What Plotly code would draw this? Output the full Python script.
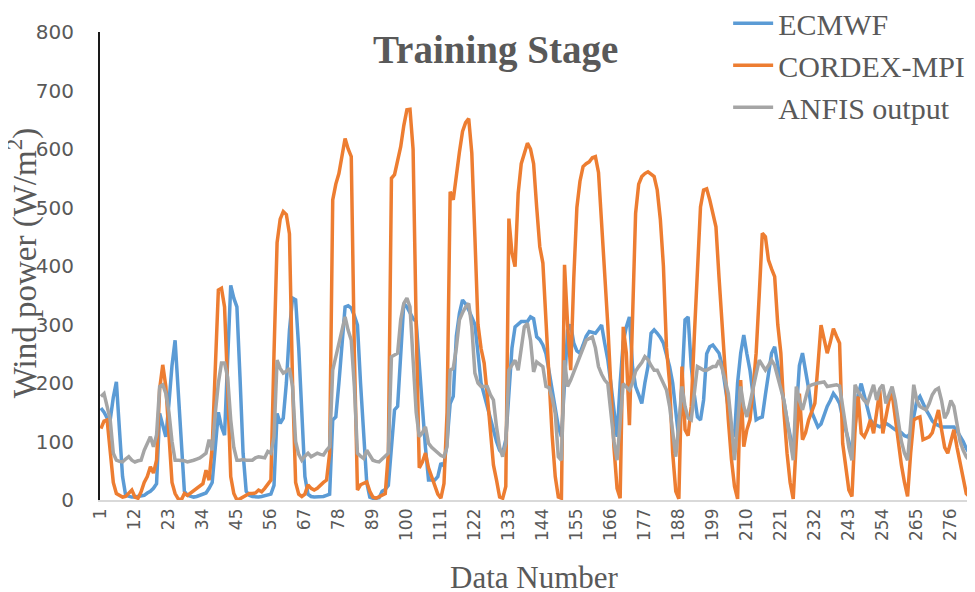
import plotly.graph_objects as go

ecmwf = [
    157, 150, 140, 137, 175, 202, 120, 40, 8, 6,
    5, 5, 6, 8, 8, 12, 15, 20, 28, 148,
    125, 108, 165, 230, 273, 190, 90, 15, 8, 6,
    5, 6, 8, 10, 12, 20, 30, 90, 150, 125,
    111, 240, 367, 345, 330, 210, 80, 15, 8, 6,
    5, 5, 6, 7, 8, 10, 25, 148, 131, 140,
    200, 290, 345, 342, 260, 150, 40, 10, 6, 5,
    5, 5, 6, 8, 10, 137, 142, 200, 270, 330,
    332, 328, 315, 299, 200, 120, 30, 5, 3, 3,
    4, 15, 18, 25, 100, 154, 160, 250, 336, 330,
    320, 310, 305, 240, 160, 90, 34, 34, 34, 40,
    63, 58, 100, 165, 177, 280, 319, 342, 335, 325,
    313, 300, 251, 200, 180, 160, 137, 120, 100, 85,
    80, 103, 194, 260, 296, 300, 305, 305, 305, 313,
    310, 279, 274, 265, 250, 220, 190, 160, 125, 108,
    200, 290, 300, 268, 255, 251, 265, 280, 288, 286,
    285, 292, 299, 268, 240, 199, 150, 108, 200, 270,
    296, 313, 228, 194, 180, 165, 200, 228, 285, 291,
    285, 278, 268, 250, 228, 200, 154, 103, 200, 308,
    313, 228, 180, 142, 137, 171, 250, 262, 265, 259,
    251, 230, 194, 150, 120, 108, 200, 251, 282, 250,
    222, 180, 137, 140, 142, 180, 220, 251, 262, 230,
    194, 165, 137, 110, 80, 150, 230, 251, 222, 190,
    150, 137, 125, 130, 145, 160, 170, 182, 175, 165,
    140, 120, 100, 74, 130, 180, 199, 180, 160, 137,
    130, 127, 125, 128, 131, 128, 124, 120, 118, 115,
    110, 108, 115, 140, 170, 177, 165, 154, 145, 135,
    130, 128, 125, 125, 125, 125, 125, 118, 110, 100, 88, 80,
]

cordex = [
    122, 135, 137, 90, 30, 11, 8, 5, 6, 12,
    17, 5, 3, 14, 30, 40, 57, 46, 68, 190,
    231, 194, 100, 30, 11, 2, 0, 11, 8, 12,
    17, 20, 25, 28, 51, 34, 90, 222, 359, 362,
    330, 194, 40, 11, 0, 2, 5, 8, 11, 11,
    12, 17, 14, 20, 28, 34, 250, 440, 480, 493,
    488, 455, 200, 30, 10, 6, 10, 26, 20, 17,
    20, 26, 30, 34, 80, 513, 540, 558, 590, 618,
    600, 587, 250, 17, 26, 28, 31, 15, 5, 3,
    6, 8, 11, 80, 550, 556, 580, 604, 640, 667,
    668, 600, 300, 55, 65, 80, 55, 40, 23, 10,
    3, 28, 150, 527, 513, 560, 595, 630, 645, 652,
    593, 450, 300, 259, 234, 180, 120, 60, 34, 5,
    3, 23, 481, 422, 399, 524, 575, 593, 610, 600,
    575, 500, 433, 405, 300, 200, 110, 40, 5, 3,
    402, 300, 222, 380, 500, 545, 570, 575, 578, 585,
    587, 560, 480, 400, 300, 194, 90, 20, 3, 296,
    251, 128, 336, 490, 540, 553, 558, 561, 557, 553,
    530, 480, 400, 260, 200, 80, 15, 2, 228, 120,
    110, 160, 280, 380, 501, 530, 532, 513, 490, 467,
    380, 308, 220, 137, 70, 23, 2, 205, 91, 120,
    137, 190, 251, 350, 456, 450, 410, 395, 382, 300,
    251, 150, 80, 30, 2, 100, 182, 103, 115, 137,
    150, 165, 230, 299, 275, 251, 270, 293, 280, 268,
    97, 60, 17, 6, 120, 177, 114, 108, 120, 137,
    114, 150, 188, 114, 140, 170, 182, 140, 100, 60,
    30, 6, 80, 137, 140, 142, 103, 105, 108, 115,
    137, 154, 120, 90, 80, 100, 120, 90, 63, 35, 11, 6,
]

anfis = [
    177, 182, 160, 137, 80, 68, 66, 65, 70, 74,
    68, 65, 67, 68, 85, 97, 108, 91, 111, 194,
    197, 182, 150, 100, 68, 68, 68, 67, 65, 66,
    68, 70, 72, 76, 80, 103, 85, 148, 200, 234,
    234, 210, 137, 90, 68, 68, 69, 68, 68, 68,
    72, 74, 73, 72, 83, 80, 108, 239, 225, 217,
    220, 225, 194, 100, 78, 68, 75, 80, 74, 77,
    80, 78, 77, 85, 91, 222, 245, 270, 295, 313,
    290, 273, 194, 80, 75, 71, 85, 75, 68, 66,
    65, 70, 75, 80, 245, 248, 251, 308, 336, 345,
    330, 240, 150, 108, 115, 125, 97, 90, 85, 80,
    76, 74, 91, 222, 225, 260, 308, 320, 330, 336,
    296, 217, 200, 194, 194, 194, 180, 171, 125, 90,
    74, 97, 222, 230, 239, 222, 260, 296, 302, 273,
    219, 236, 232, 228, 194, 192, 175, 148, 74, 68,
    239, 194, 205, 219, 235, 245, 260, 273, 276, 279,
    260, 228, 215, 205, 199, 150, 100, 68, 130, 199,
    193, 188, 200, 220, 228, 235, 245, 240, 230, 222,
    222, 210, 200, 188, 160, 120, 74, 130, 194, 160,
    140, 137, 180, 228, 225, 222, 222, 225, 228, 228,
    239, 225, 205, 182, 130, 68, 130, 194, 160, 142,
    165, 194, 215, 239, 230, 222, 230, 239, 230, 210,
    194, 170, 137, 100, 68, 194, 170, 154, 175, 194,
    197, 199, 200, 201, 202, 194, 195, 197, 197, 195,
    160, 120, 90, 68, 197, 185, 177, 170, 165, 180,
    197, 171, 190, 197, 165, 180, 194, 170, 130, 100,
    80, 68, 130, 197, 170, 160, 157, 154, 165, 180,
    188, 191, 170, 140, 150, 170, 160, 125, 100, 85, 74, 68,
]

data_number = list(range(1, len(ecmwf) + 1))
tick_values = list(range(1, len(ecmwf) + 1, 11))
tick_labels = [str(v) for v in tick_values]
y_ticks = [0, 100, 200, 300, 400, 500, 600, 700, 800]

series = [
    ("ECMWF", ecmwf, "#5B9BD5"),
    ("CORDEX-MPI", cordex, "#ED7D31"),
    ("ANFIS output", anfis, "#A5A5A5"),
]

fig = go.Figure()
for name, vals, color in series:
    fig.add_trace(go.Scatter(x=data_number, y=vals, mode="lines", name=name,
                             line=dict(color=color, width=3.5)))

text_color = "#595959"
serif = "Liberation Serif, Times New Roman, serif"

# the page adds an 8px body margin, so the figure is 8px smaller and margins compensate
fig.update_layout(
    width=967, height=584,
    margin=dict(l=92, r=5, t=24, b=92, autoexpand=False),
    paper_bgcolor="white", plot_bgcolor="white",
    showlegend=True,
    legend=dict(x=0.722, y=1.074, xanchor="left", yanchor="top",
                font=dict(family=serif, size=30, color=text_color),
                bgcolor="rgba(0,0,0,0)", tracegroupgap=0, itemwidth=40),
    xaxis=dict(range=[0.7, 282.2], tickmode="array", tickvals=tick_values, ticktext=tick_labels,
               tickangle=-90, showgrid=False, zeroline=False, showline=True, automargin=False,
               linecolor="#D9D9D9", linewidth=1.5, ticks="",
               tickfont=dict(family="DejaVu Sans", size=17, color=text_color)),
    yaxis=dict(range=[0, 800], tickvals=y_ticks, showgrid=False, zeroline=False,
               showline=True, linecolor="#1a1a1a", linewidth=2, ticks="", automargin=False,
               ticklabelstandoff=20,
               tickfont=dict(family="DejaVu Sans", size=20, color=text_color)),
    annotations=[
        dict(text="<b>Training Stage</b>", x=0.455, y=0.962, xref="paper", yref="paper",
             xanchor="center", yanchor="middle", showarrow=False,
             font=dict(family=serif, size=39, color=text_color)),
        dict(text="Wind power (W/m<sup>2</sup>)", x=-0.089, y=0.505, xref="paper", yref="paper",
             xanchor="center", yanchor="middle", textangle=-90, showarrow=False,
             font=dict(family=serif, size=33, color=text_color)),
        dict(text="Data Number", x=0.499, y=-0.165, xref="paper", yref="paper",
             xanchor="center", yanchor="middle", showarrow=False,
             font=dict(family=serif, size=31, color=text_color)),
    ],
)

fig.write_html("out.html")
